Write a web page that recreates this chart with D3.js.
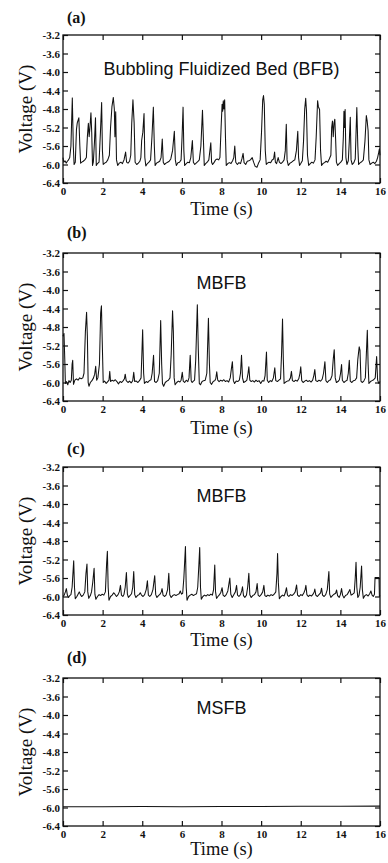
<!DOCTYPE html>
<html>
<head>
<meta charset="utf-8">
<script src="https://cdn.jsdelivr.net/npm/d3@7"></script>
<style>
  html, body { margin: 0; padding: 0; background: #fff; }
  svg { display: block; }
</style>
</head>
<body>
<svg id="chart" width="388" height="863"></svg>
<script>
// ---------------- DATA ----------------
const panelLetters = ["(a)", "(b)", "(c)", "(d)"];
const panelTitles = ["Bubbling Fluidized Bed (BFB)", "MBFB", "MBFB", "MSFB"];
const xTicks = [0, 2, 4, 6, 8, 10, 12, 14, 16];
const yTicks = [-3.2, -3.6, -4.0, -4.4, -4.8, -5.2, -5.6, -6.0, -6.4];
const xLabel = "Time (s)";
const yLabel = "Voltage (V)";

// [time (s), voltage (V)]
const seriesA = [
[0.00,-5.85],[0.04,-5.95],[0.10,-5.92],[0.16,-5.97],[0.22,-5.93],[0.28,-5.90],[0.34,-5.85],[0.40,-5.60],[0.47,-4.56],[0.52,-5.60],
[0.56,-6.00],[0.62,-5.95],[0.68,-5.24],[0.72,-5.10],[0.80,-4.99],[0.85,-5.60],[0.89,-5.97],[0.95,-5.95],[1.02,-5.93],[1.10,-5.90],
[1.18,-5.85],[1.23,-5.40],[1.28,-5.11],[1.32,-5.40],[1.36,-5.20],[1.41,-4.88],[1.45,-5.31],[1.49,-6.02],[1.53,-5.95],[1.59,-5.50],
[1.64,-4.99],[1.68,-6.02],[1.74,-5.98],[1.82,-5.95],[1.89,-5.30],[1.95,-4.66],[1.99,-5.70],[2.03,-6.00],[2.10,-5.97],[2.18,-5.95],
[2.26,-5.90],[2.34,-5.80],[2.40,-5.20],[2.47,-4.75],[2.54,-4.55],[2.59,-4.80],[2.62,-5.40],[2.66,-4.86],[2.70,-5.90],[2.76,-6.02],
[2.84,-5.97],[2.92,-5.95],[3.00,-5.98],[3.08,-5.90],[3.16,-5.73],[3.21,-5.95],[3.28,-5.97],[3.36,-5.93],[3.42,-5.80],[3.47,-5.10],
[3.53,-4.60],[3.59,-5.10],[3.64,-5.95],[3.72,-6.00],[3.80,-5.97],[3.88,-5.93],[3.93,-5.85],[3.97,-5.48],[4.03,-5.30],[4.09,-4.90],
[4.13,-5.85],[4.18,-6.03],[4.26,-5.98],[4.34,-5.95],[4.42,-5.90],[4.49,-5.40],[4.56,-4.76],[4.61,-5.60],[4.65,-6.02],[4.72,-5.97],
[4.80,-5.95],[4.88,-5.93],[4.95,-5.85],[5.01,-5.45],[5.06,-5.95],[5.12,-6.00],[5.20,-5.97],[5.28,-5.95],[5.36,-5.93],[5.44,-5.88],
[5.53,-5.70],[5.62,-5.28],[5.67,-5.90],[5.72,-6.02],[5.80,-5.96],[5.88,-5.95],[5.96,-5.90],[6.01,-5.40],[6.06,-4.76],[6.10,-5.70],
[6.14,-6.02],[6.22,-5.98],[6.30,-5.95],[6.38,-5.96],[6.45,-5.85],[6.53,-5.48],[6.58,-5.95],[6.65,-6.00],[6.72,-5.97],[6.80,-5.94],
[6.88,-5.90],[6.96,-5.60],[7.04,-4.83],[7.09,-5.50],[7.13,-6.02],[7.20,-5.98],[7.28,-5.95],[7.36,-5.90],[7.46,-5.53],[7.50,-5.95],
[7.55,-6.00],[7.62,-5.96],[7.70,-5.90],[7.78,-5.88],[7.86,-5.90],[7.92,-5.85],[7.98,-5.20],[8.03,-4.70],[8.06,-4.85],[8.09,-4.62],
[8.12,-4.80],[8.16,-4.60],[8.20,-5.40],[8.24,-6.02],[8.32,-5.98],[8.40,-5.96],[8.48,-5.98],[8.56,-5.92],[8.62,-5.85],[8.67,-5.60],
[8.72,-5.95],[8.80,-6.00],[8.88,-5.96],[8.96,-5.98],[9.03,-5.88],[9.09,-5.76],[9.14,-5.96],[9.22,-6.00],[9.30,-5.93],[9.38,-5.92],
[9.46,-5.90],[9.55,-5.85],[9.62,-5.95],[9.70,-6.04],[9.79,-6.06],[9.86,-5.98],[9.95,-5.90],[10.02,-5.30],[10.08,-4.60],[10.12,-4.51],
[10.16,-4.70],[10.21,-5.70],[10.26,-6.00],[10.32,-5.97],[10.40,-5.95],[10.48,-5.96],[10.56,-5.90],[10.63,-5.88],[10.68,-5.73],[10.72,-5.95],
[10.78,-5.98],[10.86,-5.85],[10.92,-5.95],[11.00,-5.98],[11.08,-5.95],[11.16,-5.90],[11.22,-5.70],[11.27,-5.13],[11.31,-5.90],[11.37,-6.02],
[11.46,-5.97],[11.54,-5.95],[11.62,-5.92],[11.70,-5.90],[11.78,-5.70],[11.85,-5.28],[11.89,-5.85],[11.94,-6.02],[12.00,-5.98],[12.08,-5.92],
[12.14,-5.50],[12.20,-4.80],[12.25,-4.57],[12.29,-4.85],[12.34,-5.80],[12.40,-6.02],[12.48,-5.98],[12.56,-5.95],[12.64,-5.97],[12.72,-5.90],
[12.78,-5.40],[12.85,-4.62],[12.89,-4.75],[12.95,-4.81],[13.00,-5.70],[13.05,-6.02],[13.12,-5.98],[13.20,-5.96],[13.28,-5.93],[13.36,-5.95],
[13.44,-5.88],[13.52,-5.80],[13.56,-5.20],[13.60,-5.06],[13.64,-5.40],[13.68,-5.10],[13.72,-5.02],[13.76,-5.45],[13.80,-5.95],[13.86,-6.02],
[13.94,-5.98],[14.02,-5.95],[14.10,-5.90],[14.15,-5.40],[14.18,-4.85],[14.21,-5.20],[14.24,-4.81],[14.28,-5.85],[14.33,-6.00],[14.40,-5.92],
[14.45,-5.50],[14.50,-4.98],[14.54,-5.90],[14.60,-6.00],[14.68,-5.96],[14.75,-5.88],[14.83,-4.77],[14.88,-5.60],[14.92,-6.00],[15.00,-5.96],
[15.08,-5.94],[15.16,-5.90],[15.24,-5.50],[15.31,-4.94],[15.35,-5.05],[15.40,-5.27],[15.44,-5.90],[15.50,-6.00],[15.58,-5.97],[15.66,-5.95],
[15.74,-5.98],[15.82,-5.93],[15.88,-5.85],[15.93,-5.75],[15.97,-5.66],[16.00,-5.80]
];

// [time (s), voltage (V)]
const seriesB = [
[0.00,-5.00],[0.05,-4.94],[0.09,-5.50],[0.12,-6.02],[0.18,-5.98],[0.24,-6.05],[0.30,-5.96],[0.36,-6.00],[0.42,-5.95],[0.46,-5.60],
[0.49,-5.52],[0.53,-6.04],[0.60,-5.95],[0.68,-5.92],[0.76,-5.95],[0.84,-5.90],[0.92,-5.92],[1.00,-5.90],[1.06,-5.80],[1.13,-4.90],
[1.19,-4.48],[1.23,-5.00],[1.27,-6.00],[1.31,-6.08],[1.38,-6.00],[1.46,-5.96],[1.54,-5.90],[1.60,-5.82],[1.65,-5.65],[1.70,-5.95],
[1.76,-5.90],[1.84,-5.60],[1.90,-4.50],[1.94,-4.34],[1.98,-5.10],[2.03,-6.00],[2.10,-5.97],[2.18,-6.02],[2.26,-5.98],[2.32,-5.95],
[2.36,-5.76],[2.40,-5.98],[2.48,-5.95],[2.56,-5.97],[2.64,-5.94],[2.72,-5.98],[2.80,-6.03],[2.88,-5.98],[2.96,-6.00],[3.04,-5.96],
[3.10,-5.92],[3.14,-5.82],[3.19,-5.96],[3.28,-6.00],[3.36,-5.97],[3.44,-6.01],[3.52,-5.96],[3.57,-5.78],[3.62,-5.98],[3.70,-5.97],
[3.78,-6.00],[3.86,-5.96],[3.94,-5.90],[3.98,-5.40],[4.02,-4.86],[4.07,-5.80],[4.11,-6.02],[4.20,-5.98],[4.28,-6.00],[4.36,-5.96],
[4.44,-5.94],[4.50,-5.80],[4.57,-5.41],[4.62,-5.98],[4.70,-6.00],[4.78,-5.96],[4.86,-5.80],[4.93,-4.66],[4.98,-5.60],[5.02,-6.02],
[5.08,-6.08],[5.16,-6.00],[5.24,-5.97],[5.32,-5.95],[5.40,-5.90],[5.46,-5.40],[5.53,-4.45],[5.57,-4.90],[5.61,-5.90],[5.66,-6.05],
[5.74,-6.00],[5.82,-5.97],[5.90,-5.99],[5.96,-5.95],[6.02,-5.78],[6.07,-5.97],[6.14,-6.00],[6.22,-5.95],[6.30,-5.98],[6.36,-5.90],
[6.42,-5.41],[6.47,-5.96],[6.52,-6.00],[6.58,-5.97],[6.64,-5.95],[6.70,-5.50],[6.78,-4.32],[6.83,-5.30],[6.88,-6.02],[6.94,-6.05],
[7.02,-5.98],[7.10,-5.96],[7.18,-5.95],[7.26,-5.80],[7.34,-4.61],[7.39,-5.60],[7.43,-6.00],[7.50,-6.04],[7.58,-5.98],[7.66,-5.96],
[7.71,-5.92],[7.76,-5.77],[7.81,-5.95],[7.88,-5.98],[7.96,-5.95],[8.04,-5.97],[8.12,-5.94],[8.20,-5.98],[8.28,-5.96],[8.36,-5.99],
[8.44,-5.90],[8.50,-5.70],[8.55,-5.55],[8.60,-5.96],[8.66,-6.02],[8.74,-5.97],[8.82,-5.98],[8.90,-5.95],[8.96,-5.80],[9.01,-5.41],
[9.06,-5.90],[9.12,-6.00],[9.20,-5.98],[9.28,-5.95],[9.34,-5.80],[9.38,-5.66],[9.43,-5.95],[9.50,-5.98],[9.58,-5.96],[9.66,-5.99],
[9.74,-5.95],[9.82,-5.98],[9.90,-5.96],[9.98,-6.02],[10.06,-5.96],[10.14,-5.97],[10.20,-5.85],[10.27,-5.34],[10.31,-5.95],[10.38,-6.00],
[10.46,-5.96],[10.54,-5.98],[10.62,-5.90],[10.69,-5.68],[10.74,-5.96],[10.82,-5.98],[10.90,-5.95],[10.98,-5.92],[11.03,-5.40],[11.08,-4.63],
[11.12,-5.50],[11.16,-6.02],[11.24,-5.99],[11.32,-5.97],[11.40,-5.96],[11.48,-5.90],[11.53,-5.76],[11.58,-5.96],[11.66,-5.98],[11.74,-5.95],
[11.82,-5.97],[11.90,-5.92],[11.96,-5.80],[12.00,-5.66],[12.05,-5.96],[12.12,-6.00],[12.20,-5.97],[12.28,-5.95],[12.36,-5.98],[12.44,-5.96],
[12.52,-5.99],[12.60,-5.95],[12.66,-5.85],[12.71,-5.72],[12.76,-5.96],[12.84,-5.98],[12.92,-5.95],[13.00,-5.97],[13.08,-5.93],[13.15,-5.80],
[13.22,-5.55],[13.27,-5.96],[13.34,-6.00],[13.42,-5.96],[13.50,-5.94],[13.58,-5.85],[13.64,-5.50],[13.69,-5.29],[13.74,-5.90],[13.80,-6.00],
[13.88,-5.98],[13.95,-5.94],[14.01,-5.80],[14.06,-5.61],[14.10,-5.95],[14.18,-6.00],[14.26,-5.97],[14.34,-5.95],[14.40,-5.80],[14.45,-5.52],
[14.50,-5.97],[14.58,-6.00],[14.66,-5.96],[14.74,-5.95],[14.82,-5.90],[14.88,-5.50],[14.95,-5.23],[14.99,-5.30],[15.04,-5.97],[15.10,-6.00],
[15.18,-5.97],[15.26,-5.90],[15.31,-5.40],[15.36,-4.87],[15.40,-5.60],[15.44,-6.02],[15.52,-5.98],[15.60,-5.96],[15.68,-5.94],[15.76,-5.90],
[15.83,-5.44],[15.88,-5.95],[15.94,-6.02],[16.00,-5.98]
];

// [time (s), voltage (V)]
const seriesC = [
[0.00,-6.00],[0.06,-5.97],[0.12,-5.90],[0.17,-5.83],[0.22,-5.97],[0.28,-6.02],[0.34,-5.98],[0.40,-5.96],[0.46,-5.80],[0.54,-5.23],
[0.58,-5.80],[0.62,-6.05],[0.70,-6.00],[0.76,-5.95],[0.82,-5.90],[0.88,-5.96],[0.94,-6.00],[1.02,-5.97],[1.10,-5.90],[1.16,-5.50],
[1.21,-5.30],[1.25,-5.90],[1.30,-6.04],[1.38,-5.98],[1.44,-5.90],[1.50,-5.70],[1.57,-5.39],[1.61,-5.95],[1.66,-6.06],[1.74,-6.00],
[1.82,-5.96],[1.90,-5.98],[1.98,-5.95],[2.06,-5.97],[2.14,-5.90],[2.20,-5.30],[2.24,-5.02],[2.28,-5.80],[2.32,-6.08],[2.40,-6.00],
[2.48,-5.97],[2.56,-5.92],[2.62,-5.95],[2.70,-6.00],[2.78,-5.96],[2.84,-5.90],[2.90,-5.76],[2.95,-5.97],[3.02,-6.00],[3.08,-5.95],
[3.14,-5.80],[3.20,-5.48],[3.25,-5.95],[3.30,-6.02],[3.38,-5.98],[3.46,-5.94],[3.52,-5.80],[3.57,-5.46],[3.62,-5.96],[3.68,-6.02],
[3.76,-5.98],[3.84,-5.96],[3.90,-5.92],[3.96,-5.97],[4.04,-6.00],[4.12,-5.96],[4.20,-5.85],[4.26,-5.66],[4.31,-5.97],[4.38,-6.00],
[4.46,-5.96],[4.54,-5.85],[4.63,-5.55],[4.68,-5.96],[4.74,-6.02],[4.82,-5.98],[4.90,-5.95],[4.96,-5.90],[5.00,-5.83],[5.05,-5.97],
[5.12,-6.00],[5.20,-5.97],[5.28,-5.85],[5.34,-5.50],[5.39,-5.96],[5.46,-6.02],[5.54,-5.98],[5.62,-5.96],[5.70,-5.98],[5.78,-5.96],
[5.86,-5.94],[5.92,-5.88],[5.98,-5.95],[6.04,-5.93],[6.10,-5.60],[6.18,-4.92],[6.22,-5.80],[6.26,-6.08],[6.34,-6.00],[6.42,-5.97],
[6.50,-5.95],[6.58,-5.98],[6.66,-5.96],[6.74,-5.94],[6.80,-5.80],[6.86,-5.30],[6.90,-4.94],[6.94,-5.80],[6.98,-6.06],[7.06,-6.00],
[7.14,-5.97],[7.22,-5.99],[7.30,-5.96],[7.38,-5.98],[7.46,-5.95],[7.54,-5.97],[7.60,-5.85],[7.66,-5.32],[7.70,-5.90],[7.75,-6.04],
[7.82,-6.00],[7.90,-5.96],[7.96,-5.92],[8.03,-5.81],[8.08,-5.97],[8.16,-6.00],[8.24,-5.96],[8.32,-5.88],[8.42,-5.60],[8.47,-5.95],
[8.54,-6.02],[8.62,-5.96],[8.70,-5.90],[8.76,-5.76],[8.81,-5.97],[8.88,-6.00],[8.96,-5.96],[9.02,-5.88],[9.06,-5.79],[9.11,-5.98],
[9.18,-6.02],[9.26,-5.97],[9.32,-5.80],[9.38,-5.50],[9.43,-5.96],[9.50,-6.02],[9.58,-5.98],[9.66,-5.96],[9.74,-5.90],[9.80,-5.72],
[9.85,-5.97],[9.92,-6.00],[10.00,-5.96],[10.08,-5.90],[10.14,-5.76],[10.19,-5.98],[10.26,-6.00],[10.34,-5.97],[10.42,-5.99],[10.50,-5.96],
[10.58,-5.98],[10.66,-5.95],[10.74,-5.90],[10.80,-5.50],[10.83,-5.07],[10.87,-5.70],[10.92,-6.05],[11.00,-6.00],[11.08,-5.97],[11.16,-5.99],
[11.22,-5.92],[11.28,-5.81],[11.33,-5.97],[11.40,-6.00],[11.48,-5.96],[11.56,-5.98],[11.64,-5.95],[11.72,-5.90],[11.79,-5.75],[11.84,-5.97],
[11.92,-6.00],[12.00,-5.96],[12.08,-5.98],[12.16,-5.92],[12.22,-5.85],[12.26,-5.76],[12.31,-5.96],[12.38,-6.00],[12.46,-5.97],[12.54,-5.99],
[12.62,-5.95],[12.68,-5.90],[12.71,-5.84],[12.76,-5.97],[12.84,-6.00],[12.92,-5.96],[13.00,-5.92],[13.05,-5.82],[13.10,-5.97],[13.18,-6.00],
[13.26,-5.96],[13.34,-5.85],[13.42,-5.46],[13.46,-5.95],[13.52,-6.02],[13.60,-5.98],[13.68,-5.95],[13.76,-5.93],[13.81,-5.86],[13.86,-5.98],
[13.94,-6.02],[14.00,-5.96],[14.06,-5.83],[14.11,-5.97],[14.18,-6.03],[14.26,-5.98],[14.34,-5.96],[14.42,-5.90],[14.48,-5.85],[14.54,-5.97],
[14.62,-5.95],[14.70,-5.92],[14.75,-5.60],[14.79,-5.26],[14.83,-5.80],[14.88,-6.02],[14.94,-5.98],[15.00,-5.80],[15.07,-5.34],[15.11,-5.85],
[15.16,-6.04],[15.24,-5.98],[15.32,-5.96],[15.40,-5.99],[15.48,-5.94],[15.54,-5.88],[15.60,-5.97],[15.66,-6.00],[15.72,-5.95],[15.75,-5.59],
[15.85,-5.59],[15.95,-5.59],[15.97,-6.00],[16.00,-5.98]
];

// [time (s), voltage (V)]
const seriesD = [
[0.00,-5.985],[2.00,-5.985],[4.00,-5.98],[6.00,-5.985],[8.00,-5.98],[10.00,-5.98],[12.00,-5.975],[14.00,-5.975],[16.00,-5.97]
];

const allSeries = [seriesA, seriesB, seriesC, seriesD];

// ---------------- LAYOUT ----------------
const svg = d3.select("#chart");
const left = 63, right = 380, plotH = 148;
const panelTops = [35, 253, 467, 678];
const letterOffsets = [12, 15, 13, 15];
const titleOffsets = [40, 36, 35, 36];
const xLabelOffsets = [32, 33, 31, 29];

const x = d3.scaleLinear().domain([0, 16]).range([left, right]);

const serif = "'Liberation Serif', 'Times New Roman', serif";
const sans = "'Liberation Sans', Arial, sans-serif";

allSeries.forEach((series, i) => {
  const top = panelTops[i];
  const bottom = top + plotH;
  const y = d3.scaleLinear().domain([-6.4, -3.2]).range([bottom, top]);
  const g = svg.append("g");

  // trace
  const line = d3.line().x(d => x(d[0])).y(d => y(d[1]));
  g.append("path")
    .datum(series)
    .attr("d", line)
    .attr("fill", "none")
    .attr("stroke", "#111")
    .attr("stroke-width", 1.05)
    .attr("stroke-linejoin", "round");

  // axes (inward ticks)
  const ax = g.append("g").attr("transform", `translate(0,${bottom})`)
    .call(d3.axisBottom(x).tickValues(xTicks).tickSizeInner(-5).tickSizeOuter(0).tickPadding(4).tickFormat(d3.format("d")));
  const ay = g.append("g").attr("transform", `translate(${left},0)`)
    .call(d3.axisLeft(y).tickValues(yTicks).tickSizeInner(-5).tickSizeOuter(0).tickPadding(3).tickFormat(d => d.toFixed(1)));
  const axT = g.append("g").attr("transform", `translate(0,${top})`)
    .call(d3.axisTop(x).tickValues(xTicks).tickSizeInner(-5).tickSizeOuter(0).tickFormat(""));
  const ayR = g.append("g").attr("transform", `translate(${right},0)`)
    .call(d3.axisRight(y).tickValues(yTicks).tickSizeInner(-5).tickSizeOuter(0).tickFormat(""));

  [ax, ay, axT, ayR].forEach(a => {
    a.attr("font-family", null).attr("font-size", null);
    a.select(".domain").remove();
    a.selectAll(".tick line").attr("stroke", "#111").attr("stroke-width", 1.2);
    a.selectAll("text").attr("fill", "#111")
      .style("font-family", serif).style("font-weight", "bold").style("font-size", "11px");
  });

  // frame
  g.append("rect")
    .attr("x", left).attr("y", top)
    .attr("width", right - left).attr("height", plotH)
    .attr("fill", "none").attr("stroke", "#111").attr("stroke-width", 1.3);

  // panel letter
  g.append("text")
    .attr("x", 67).attr("y", top - letterOffsets[i])
    .style("font-family", serif).style("font-weight", "bold").style("font-size", "16px")
    .attr("fill", "#111")
    .text(panelLetters[i]);

  // panel title
  g.append("text")
    .attr("x", (left + right) / 2).attr("y", top + titleOffsets[i])
    .attr("text-anchor", "middle")
    .style("font-family", sans).style("font-size", "18px")
    .attr("fill", "#111")
    .text(panelTitles[i]);

  // y label
  g.append("text")
    .attr("transform", `translate(32,${(top + bottom) / 2}) rotate(-90)`)
    .attr("text-anchor", "middle")
    .style("font-family", serif).style("font-size", "19px")
    .attr("fill", "#111")
    .text(yLabel);

  // x label
  g.append("text")
    .attr("x", (left + right) / 2).attr("y", bottom + xLabelOffsets[i])
    .attr("text-anchor", "middle")
    .style("font-family", serif).style("font-size", "18.5px")
    .attr("fill", "#111")
    .text(xLabel);
});
</script>
</body>
</html>
